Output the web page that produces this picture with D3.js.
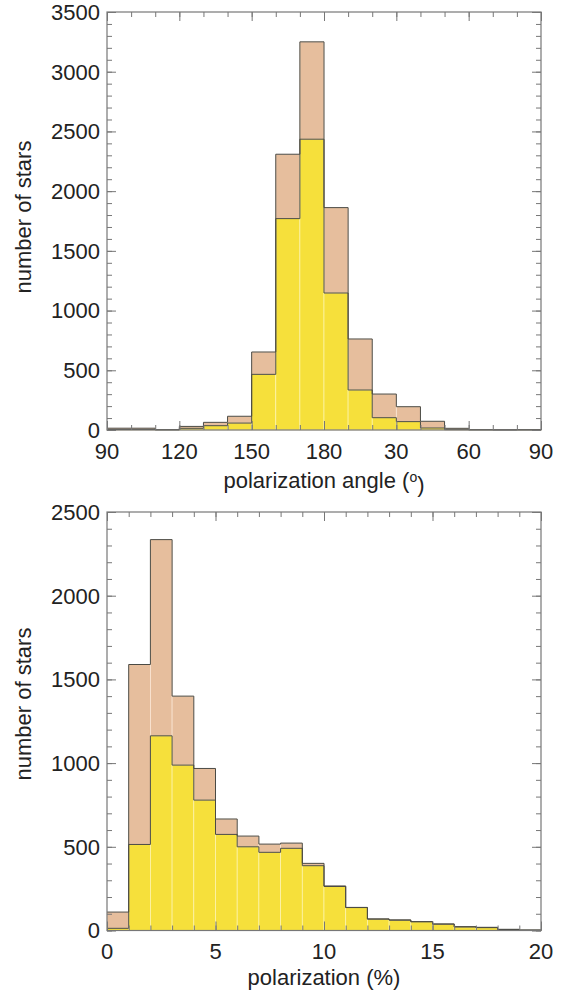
<!DOCTYPE html>
<html>
<head>
<meta charset="utf-8">
<script src="https://d3js.org/d3.v7.min.js"></script>
<style>
  body { margin: 0; background: #fff; }
  svg text { font-family: "Liberation Sans", Arial, Helvetica, sans-serif; fill: #222; }
</style>
</head>
<body>
<div id="chart"></div>
<script>
// data

// top panel: polarization angle, 10 degree bins starting at 90
const angleEdges = d3.range(0, 181, 10);           // offset from 90 deg
const angleTickPos = [0, 30, 60, 90, 120, 150, 180];
const angleTickLabels = ['90', '120', '150', '180', '30', '60', '90'];
const angleTotal =    [15, 15, 3, 30, 64, 115, 653, 2309, 3250, 1862, 762, 301, 195, 73, 14, 3, 2, 3];
const angleSelected = [4, 4, 1, 14, 36, 58, 466, 1770, 2435, 1147, 335, 103, 70, 17, 3, 1, 0, 1];

// bottom panel: polarization degree, 1 % bins
const polEdges = d3.range(0, 21, 1);
const polTickPos = [0, 5, 10, 15, 20];
const polTickLabels = ['0', '5', '10', '15', '20'];
const polTotal =    [110, 1589, 2335, 1400, 968, 666, 564, 516, 522, 401, 266, 138, 69, 63, 53, 39, 23, 19, 7, 3];
const polSelected = [13, 514, 1163, 988, 779, 574, 500, 467, 491, 387, 263, 137, 68, 62, 52, 38, 21, 17, 6, 2];

const yLabel = 'number of stars';

// colours
const tanColor = '#e6be9d';
const yellowColor = '#f6e03b';
const outlineColor = '#4a4a44';
const frameColor = '#777';

const W = 562, H = 990;

const svg = d3.select('#chart')
    .append('svg')
    .attr('width', W)
    .attr('height', H);

drawPanel({
    top: 12, bottom: 430, left: 107, right: 541,
    edges: angleEdges, total: angleTotal, selected: angleSelected,
    yMax: 3500, yMajor: 500, yMinor: 100,
    xMajor: angleTickPos, xMinor: d3.range(0, 181, 10),
    xTickLabels: angleTickLabels,
    title: 'angle',
    tickLabelOff: 29, titleOff: 58,
    yLabelY: 217
});

drawPanel({
    top: 512, bottom: 930.5, left: 107, right: 541,
    edges: polEdges, total: polTotal, selected: polSelected,
    yMax: 2500, yMajor: 500, yMinor: 100,
    xMajor: polTickPos, xMinor: d3.range(0, 21, 1),
    xTickLabels: polTickLabels,
    title: 'pol',
    tickLabelOff: 28, titleOff: 54.5,
    yLabelY: 704
});

function drawPanel(c) {
    const g = svg.append('g');

    let x = d3.scaleLinear()
        .domain([c.edges[0], c.edges[c.edges.length - 1]])
        .range([c.left, c.right]);
    let y = d3.scaleLinear()
        .domain([0, c.yMax])
        .range([c.bottom, c.top]);

    // bars, total first then the selected subset on top
    drawBars(g, c.total, tanColor, 'rgba(255,240,225,0.7)');
    drawBars(g, c.selected, yellowColor, 'rgba(255,250,200,0.7)');
    drawStep(g, c.total);
    drawStep(g, c.selected);

    function drawBars(g, vals, fill, edge) {
        g.append('g')
            .selectAll('rect')
            .data(vals)
            .enter()
            .append('rect')
            .attr('x', (d, i) => x(c.edges[i]))
            .attr('y', d => y(d))
            .attr('width', (d, i) => x(c.edges[i + 1]) - x(c.edges[i]))
            .attr('height', d => y(0) - y(d))
            .attr('fill', fill)
            .attr('stroke', edge)
            .attr('stroke-width', 0.8);
    }

    // histogram outline as a step line
    function drawStep(g, vals) {
        let stepLine = d3.line()
            .x(d => x(d[0]))
            .y(d => y(d[1]))
            .curve(d3.curveStepAfter);
        let body = vals.map((v, i) => [c.edges[i], v]);
        body.push([c.edges[c.edges.length - 1], vals[vals.length - 1]]);
        g.append('path')
            .attr('d', stepLine(body))
            .attr('fill', 'none')
            .attr('stroke', outlineColor)
            .attr('stroke-width', 1);
    }

    // frame
    g.append('rect')
        .attr('x', c.left)
        .attr('y', c.top)
        .attr('width', c.right - c.left)
        .attr('height', c.bottom - c.top)
        .attr('fill', 'none')
        .attr('stroke', frameColor)
        .attr('stroke-width', 1.2);

    // inward ticks on all four sides
    const majLen = 9, minLen = 5;
    let yMinorVals = d3.range(0, c.yMax + 1, c.yMinor);
    let yMajorVals = d3.range(0, c.yMax + 1, c.yMajor);

    let axisG = g.append('g').attr('class', 'ticks');
    function tickSet(axisFn, scale, vals, len, tx) {
        axisG.append('g')
            .attr('transform', tx)
            .call(axisFn(scale).tickValues(vals).tickSize(-len).tickFormat(''))
            .call(s => s.select('.domain').remove())
            .call(s => s.selectAll('line').attr('stroke', frameColor).attr('stroke-width', 1));
    }
    tickSet(d3.axisBottom, x, c.xMinor, minLen, `translate(0,${c.bottom})`);
    tickSet(d3.axisBottom, x, c.xMajor, majLen, `translate(0,${c.bottom})`);
    tickSet(d3.axisTop, x, c.xMinor, minLen, `translate(0,${c.top})`);
    tickSet(d3.axisTop, x, c.xMajor, majLen, `translate(0,${c.top})`);
    tickSet(d3.axisLeft, y, yMinorVals, minLen, `translate(${c.left},0)`);
    tickSet(d3.axisLeft, y, yMajorVals, majLen, `translate(${c.left},0)`);
    tickSet(d3.axisRight, y, yMinorVals, minLen, `translate(${c.right},0)`);
    tickSet(d3.axisRight, y, yMajorVals, majLen, `translate(${c.right},0)`);

    // tick labels
    g.append('g')
        .selectAll('text')
        .data(c.xMajor)
        .enter()
        .append('text')
        .attr('x', d => x(d))
        .attr('y', c.bottom + c.tickLabelOff)
        .attr('text-anchor', 'middle')
        .style('font-size', '22px')
        .text((d, i) => c.xTickLabels[i]);

    g.append('g')
        .selectAll('text')
        .data(yMajorVals)
        .enter()
        .append('text')
        .attr('x', c.left - 7)
        .attr('y', d => y(d))
        .attr('dy', '0.36em')
        .attr('text-anchor', 'end')
        .style('font-size', '22px')
        .text(d => d);

    // axis titles
    let xt = g.append('text')
        .attr('x', (c.left + c.right) / 2)
        .attr('y', c.bottom + c.titleOff)
        .attr('text-anchor', 'middle')
        .style('font-size', '22px');
    if (c.title === 'angle') {
        xt.append('tspan').text('polarization angle (');
        xt.append('tspan').attr('dy', '-0.45em').style('font-size', '14px').text('o');
        xt.append('tspan').attr('dy', '0.45em').text(')');
    } else {
        xt.text('polarization (%)');
    }

    g.append('text')
        .attr('transform', `translate(31,${c.yLabelY}) rotate(-90)`)
        .attr('text-anchor', 'middle')
        .style('font-size', '22px')
        .text(yLabel);
}
</script>
</body>
</html>
